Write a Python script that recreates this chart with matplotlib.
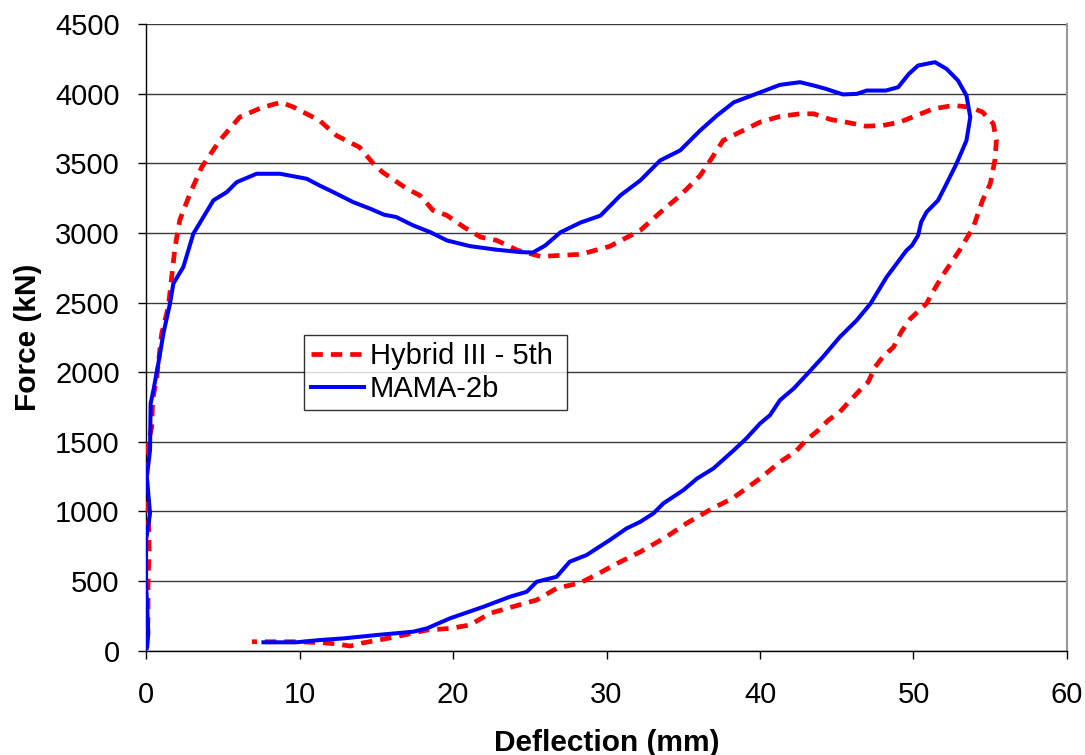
import matplotlib
matplotlib.use("Agg")
import matplotlib.pyplot as plt

# Hybrid III - 5th (red dashed): loading then unloading
hyb_x = [0.05, 0.13, 0.13, 0.2, 0.15, 0.05, 0.05, 0.37, 0.43, 0.7, 1.02, 1.45, 1.67, 1.89, 2.2, 2.87,
         3.63, 4.8, 6.1, 7.5, 8.8, 9.6, 11.3, 12.4, 13.9, 14.8, 15.4, 17.0, 17.85, 18.7, 19.6, 20.7,
         21.8, 22.85, 24.2, 25.7, 28.3, 30.2, 32.2, 33.5, 34.8, 36.1, 36.9, 37.6, 38.5, 40.0, 41.3,
         42.6, 43.5, 44.6, 45.6, 46.9, 48.0, 49.1, 50.2, 51.3, 52.6, 53.7, 54.5, 55.2, 55.4, 55.3,
         55.0, 54.5, 53.9, 53.0, 51.9, 51.2, 50.85, 49.8, 49.2, 48.7, 48.0, 47.5, 47.05, 46.5, 45.9,
         45.2, 44.45, 43.8, 43.0, 42.3, 41.3, 40.0, 38.2, 36.9, 35.2, 33.9, 32.2, 30.7, 29.3, 28.3,
         26.75, 25.45, 23.9, 22.4, 21.1, 19.8, 18.3, 16.3, 14.1, 13.3, 12.4, 11.5, 9.8, 8.5, 6.9]
hyb_y = [18, 243, 483, 722, 961, 1200, 1440, 1607, 1799, 1966, 2278, 2469, 2684, 2900, 3094, 3285,
         3474, 3665, 3833, 3900, 3940, 3905, 3809, 3701, 3617, 3500, 3438, 3318, 3270, 3163, 3127, 3043,
         2971, 2947, 2876, 2832, 2847, 2904, 3019, 3148, 3270, 3413, 3545, 3665, 3715, 3797, 3838,
         3857, 3857, 3816, 3797, 3768, 3773, 3797, 3845, 3893, 3917, 3905, 3869, 3785, 3665, 3522,
         3354, 3235, 3043, 2876, 2696, 2565, 2493, 2385, 2289, 2181, 2110, 2038, 1930, 1870, 1799,
         1715, 1655, 1583, 1511, 1427, 1355, 1236, 1093, 1021, 913, 817, 709, 626, 542, 487,
         447, 363, 315, 267, 183, 159, 147, 99, 54, 32, 47, 56, 63, 63, 63]

# MAMA-2b (blue solid)
mama_x = [0.05, 0.15, 0.0, 0.0, 0.26, 0.05, 0.26, 0.3, 0.48, 0.8, 1.13, 1.56, 1.78, 2.43, 3.08,
          4.39, 5.26, 5.91, 7.2, 8.73, 10.47, 11.3, 12.2, 13.5, 14.6, 15.5, 16.3, 17.4, 18.5, 19.6,
          21.1, 22.85, 24.4, 25.2, 26.0, 27.0, 28.3, 29.6, 30.9, 32.2, 33.5, 34.8, 36.1, 37.2, 38.3,
          39.75, 41.3, 42.6, 43.5, 44.3, 45.4, 46.3, 46.95, 48.2, 49.0, 49.7, 50.3, 51.4, 52.15, 52.9,
          53.45, 53.7, 53.45, 52.8, 52.15, 51.6, 50.85, 50.5, 50.3, 49.9, 49.55, 48.25, 47.2, 46.3,
          45.2, 44.1, 43.0, 42.2, 41.3, 40.65, 40.0, 39.1, 38.3, 36.96, 35.9, 35.0, 33.7, 33.05, 32.2,
          31.3, 30.2, 28.7, 27.6, 26.75, 25.45, 24.8, 23.7, 22.0, 19.8, 18.3, 17.4, 15.0, 12.85,
          11.3, 9.8, 7.65]
mama_y = [18, 123, 483, 793, 985, 1248, 1440, 1775, 1870, 2062, 2278, 2493, 2637, 2756, 2995,
          3235, 3294, 3366, 3426, 3426, 3390, 3342, 3294, 3222, 3175, 3132, 3115, 3055, 3007, 2947,
          2906, 2880, 2863, 2860, 2910, 3005, 3075, 3125, 3270, 3378, 3522, 3594, 3737, 3845, 3940,
          4000, 4065, 4084, 4060, 4036, 3996, 4000, 4024, 4024, 4048, 4144, 4204, 4228, 4180, 4096,
          3988, 3833, 3665, 3498, 3354, 3235, 3151, 3079, 2983, 2911, 2876, 2684, 2493, 2373,
          2253, 2110, 1978, 1883, 1799, 1691, 1631, 1523, 1440, 1308, 1236, 1152, 1057, 985, 925,
          877, 793, 686, 638, 530, 494, 422, 386, 315, 231, 159, 135, 111, 87,
          75, 59, 59]

x_ticks = [0, 10, 20, 30, 40, 50, 60]
y_ticks = [0, 500, 1000, 1500, 2000, 2500, 3000, 3500, 4000, 4500]

plt.rcParams['font.family'] = ['Liberation Sans', 'DejaVu Sans']

fig = plt.figure(figsize=(10.85, 7.55), dpi=100)
ax = fig.add_axes([0.1346, 0.1384, 0.8488, 0.8294])

ax.plot(hyb_x, hyb_y, color='#ff0000', lw=3.4, linestyle=(0, (2.4, 1.7)),
        label='Hybrid III - 5th', zorder=3)
ax.plot(mama_x, mama_y, color='#0000ff', lw=2.9, label='MAMA-2b', zorder=4,
        solid_joinstyle='round')

ax.set_xlim(0, 60)
ax.set_ylim(0, 4500)
ax.set_xticks(x_ticks)
ax.set_yticks(y_ticks)
ax.yaxis.grid(True, color='#3a3a3a', lw=1)
ax.set_axisbelow(True)

ax.spines['top'].set_visible(False)
ax.spines['right'].set_color('#999999')
ax.spines['right'].set_linewidth(1.5)
for s in ['left', 'bottom']:
    ax.spines[s].set_color('black')
    ax.spines[s].set_linewidth(1.0)

ax.tick_params(axis='both', direction='out', length=6, width=1, labelsize=21)
ax.tick_params(axis='x', pad=16)
ax.tick_params(axis='y', pad=13)

ax.set_xlabel('Deflection (mm)', fontsize=21.5, fontweight='bold', labelpad=14)
ax.set_ylabel('Force (kN)', fontsize=21.5, fontweight='bold', labelpad=9)

leg = ax.legend(loc='lower left', bbox_to_anchor=(0.1716, 0.384, 0.285, 0.131),
                mode='expand', fontsize=21, frameon=True, fancybox=False,
                handlelength=1.8, handletextpad=0.2, borderaxespad=0, borderpad=0.25,
                labelspacing=0.15)
leg.get_frame().set_edgecolor('black')
leg.get_frame().set_linewidth(1.0)

fig.savefig('out.png', dpi=100)
